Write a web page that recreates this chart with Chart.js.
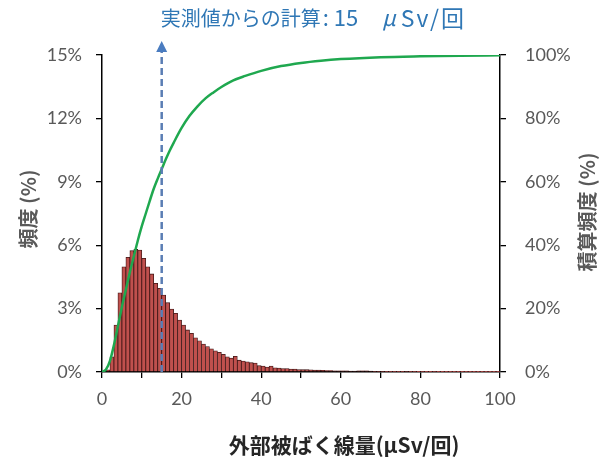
<!DOCTYPE html>
<html>
<head>
<meta charset="utf-8">
<script src="https://cdn.jsdelivr.net/npm/chart.js@4.4.0/dist/chart.umd.min.js"></script>
<style>
html,body{margin:0;padding:0;background:#fff;}
#c{display:block;}
</style>
</head>
<body>
<canvas id="c" width="604" height="459"></canvas>
<script>
// Histogram: bin k covers [k, k+1) µSv/回, frequency in %
const binStarts = Array.from({length:100}, (_, k) => k);
const frequency = [
  0, 0.1, 0.72, 2.22, 3.75, 4.98, 5.43, 5.74, 5.80, 5.77,
  5.38, 4.98, 4.64, 4.20, 3.96, 3.64, 3.28, 2.98, 2.78, 2.46,
  2.22, 1.99, 1.83, 1.62, 1.48, 1.32, 1.20, 1.10, 1.00, 0.93,
  0.84, 0.72, 0.66, 0.74, 0.56, 0.52, 0.48, 0.44, 0.42, 0.30,
  0.28, 0.23, 0.28, 0.20, 0.19, 0.16, 0.16, 0.14, 0.14, 0.12,
  0.11, 0.11, 0.10, 0.09, 0.09, 0.08, 0.07, 0.07, 0.06, 0.06,
  0.05, 0.05, 0.04, 0.04, 0.05, 0.06, 0.05, 0.04, 0.03, 0.03,
  0.03, 0.02, 0.02, 0.02, 0.02, 0.02, 0.03, 0.02, 0.02, 0.01,
  0.02, 0.01, 0.01, 0.02, 0.01, 0.01, 0.01, 0.01, 0.01, 0.01,
  0.01, 0.01, 0.01, 0.01, 0.01, 0.01, 0.01, 0.01, 0.01, 0.01
];
// Cumulative frequency curve (%)
const cumX = [0, 1, 2, 3, 4, 5, 6, 7, 8, 9, 10, 11, 12, 13, 14, 15, 16, 17, 18, 20, 22, 24, 26, 28, 30, 33, 36, 40, 45, 50, 55, 60, 70, 80, 90, 100];
const cumY = [0, 0.8, 3.5, 8.5, 14.5, 20.5, 26, 31.5, 36.5, 41.5, 46, 50, 54, 57.8, 61, 64, 67, 69.8, 72.3, 77, 80.8, 83.8, 86.3, 88.2, 89.9, 92, 93.4, 95, 96.5, 97.5, 98.2, 98.7, 99.3, 99.6, 99.8, 99.9];
// Axes ticks
const xTicks = [0, 20, 40, 60, 80, 100];
const yLeftTicks = [0, 3, 6, 9, 12, 15];
const yRightTicks = [0, 20, 40, 60, 80, 100];
const markValue = 15;
const markLabelA = '実測値からの計算';
const markLabelB = ': 15';
const markLabelMu = 'μ';
const markLabelC = 'Sv/回';
const xTitle = '外部被ばく線量(μSv/回)';
const yLeftTitle = '頻度 (%)';
const yRightTitle = '積算頻度 (%)';

const tickFont = {family: 'Lato', size: 18};
const tickColor = '#595959';

const overlay = {
  id: 'overlay',
  afterDatasetsDraw(chart) {
    const {ctx, chartArea, scales} = chart;
    const px = scales.x.getPixelForValue(markValue);
    ctx.save();
    // dashed vertical line
    ctx.strokeStyle = '#5a7db4';
    ctx.lineWidth = 2.5;
    ctx.setLineDash([7, 4]);
    ctx.beginPath();
    ctx.moveTo(px, chartArea.bottom);
    ctx.lineTo(px, chartArea.top - 3);
    ctx.stroke();
    ctx.setLineDash([]);
    // arrow head
    ctx.fillStyle = '#4a7cc0';
    ctx.beginPath();
    ctx.moveTo(px, chartArea.top - 14);
    ctx.lineTo(px - 5.5, chartArea.top - 3);
    ctx.lineTo(px + 5.5, chartArea.top - 3);
    ctx.closePath();
    ctx.fill();
    // annotation text
    ctx.fillStyle = '#2f77b5';
    ctx.textBaseline = 'middle';
    ctx.textAlign = 'left';
    ctx.font = '20px "Noto Sans CJK JP"';
    const x0 = px - 1;
    ctx.fillText(markLabelA, x0, 18);
    const wA = ctx.measureText(markLabelA).width;
    ctx.font = '22px "Noto Sans CJK JP"';
    ctx.fillText(markLabelB, x0 + wA + 2, 18);
    ctx.font = '23px "Noto Sans CJK JP"';
    if ('letterSpacing' in ctx) ctx.letterSpacing = '2px';
    ctx.textAlign = 'right';
    ctx.fillText(markLabelC, 466, 18);
    const startC = 466 - ctx.measureText(markLabelC).width;
    if ('letterSpacing' in ctx) ctx.letterSpacing = '0px';
    ctx.font = 'italic 22px "Noto Sans CJK JP"';
    ctx.textAlign = 'right';
    ctx.fillText(markLabelMu, startC - 5, 18);
    ctx.restore();
  },
  afterDraw(chart) {
    const {ctx} = chart;
    ctx.save();
    ctx.textAlign = 'center';
    ctx.textBaseline = 'middle';
    // x title
    ctx.fillStyle = '#262626';
    ctx.font = 'bold 21px "Noto Sans CJK JP"';
    ctx.fillText(xTitle, 344, 445);
    // y titles
    ctx.fillStyle = '#595959';
    ctx.font = 'bold 20px "Noto Sans CJK JP"';
    ctx.save();
    ctx.translate(28, 209);
    ctx.rotate(-Math.PI / 2);
    ctx.fillText(yLeftTitle, 0, 0);
    ctx.restore();
    ctx.save();
    ctx.translate(587, 212);
    ctx.rotate(-Math.PI / 2);
    ctx.fillText(yRightTitle, 0, 0);
    ctx.restore();
    ctx.restore();
  }
};

new Chart(document.getElementById('c'), {
  type: 'bar',
  data: {
    datasets: [
      {
        type: 'line',
        label: '積算頻度',
        data: cumX.map((x, i) => ({x, y: cumY[i]})),
        yAxisID: 'y2',
        xAxisID: 'x',
        borderColor: '#1fa84f',
        borderWidth: 2.5,
        pointRadius: 0,
        cubicInterpolationMode: 'monotone',
        fill: false,
        order: 0
      },
      {
        type: 'bar',
        label: '頻度',
        data: binStarts.map((k, i) => ({x: k + 0.5, y: frequency[i]})),
        yAxisID: 'y',
        xAxisID: 'x',
        backgroundColor: '#c0504d',
        borderColor: '#3d1515',
        borderWidth: 0.8,
        barPercentage: 1,
        categoryPercentage: 1,
        order: 1
      }
    ]
  },
  options: {
    responsive: false,
    animation: false,
    layout: {padding: {top: 55, left: 0, right: 0, bottom: 0}},
    plugins: {legend: {display: false}, tooltip: {enabled: false}, title: {display: false}},
    scales: {
      x: {
        type: 'linear',
        min: 0, max: 100,
        offset: false,
        grid: {display: true, drawOnChartArea: false, drawTicks: true, tickLength: 6, color: '#000', lineWidth: 1.3, offset: false},
        border: {display: true, color: '#000', width: 1.5},
        ticks: {
          stepSize: 10,
          autoSkip: false,
          maxRotation: 0,
          padding: 10,
          font: tickFont,
          color: tickColor,
          callback: v => xTicks.includes(v) ? String(v) : ''
        },
        afterFit: s => { s.height = 87; }
      },
      y: {
        type: 'linear',
        position: 'left',
        min: 0, max: 15,
        grid: {display: true, drawOnChartArea: false, drawTicks: true, tickLength: 6, color: '#000', lineWidth: 1.3},
        border: {display: true, color: '#000', width: 1.5},
        ticks: {
          stepSize: 3,
          padding: 14,
          font: tickFont,
          color: tickColor,
          callback: v => yLeftTicks.includes(v) ? v + '%' : ''
        },
        afterFit: s => { s.width = 102; }
      },
      y2: {
        type: 'linear',
        position: 'right',
        min: 0, max: 100,
        grid: {display: true, drawOnChartArea: false, drawTicks: true, tickLength: 6, color: '#000', lineWidth: 1.3},
        border: {display: true, color: '#000', width: 1.5},
        ticks: {
          stepSize: 20,
          padding: 19,
          font: tickFont,
          color: tickColor,
          callback: v => yRightTicks.includes(v) ? v + '%' : ''
        },
        afterFit: s => { s.width = 104; }
      }
    }
  },
  plugins: [overlay]
});
</script>
</body>
</html>
